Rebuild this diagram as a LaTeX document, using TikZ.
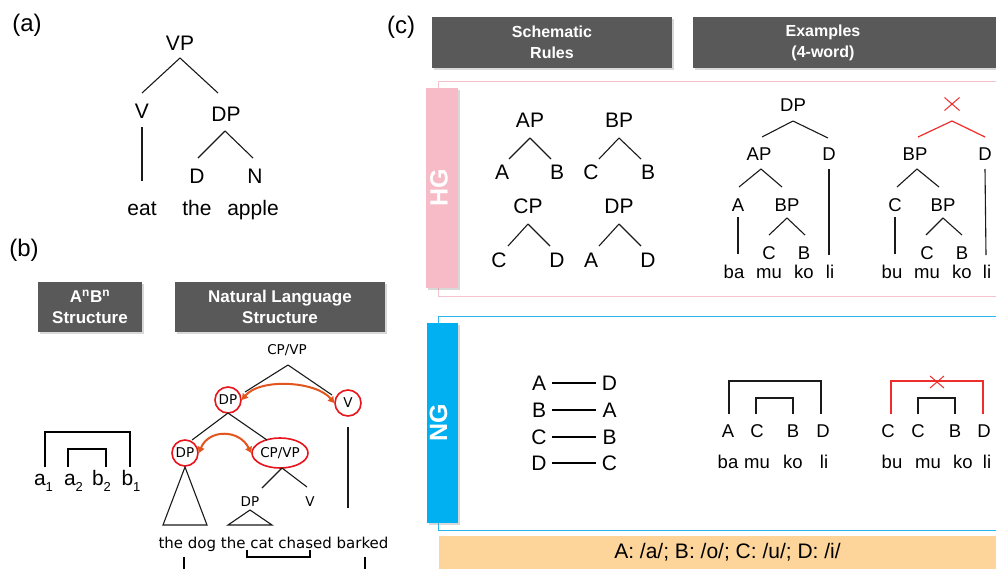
\documentclass[tikz,border=0pt]{standalone}
\usepackage{fontspec}
\setmainfont{Liberation Sans}
\newfontfamily\dvs{DejaVu Sans}
\usetikzlibrary{calc,shadows,shapes.misc,shapes.geometric,arrows.meta}
\newcommand{\fsz}[2]{\fontsize{#1}{#2}\selectfont}
\newcommand{\subidx}[1]{\raisebox{-0.3em}{\fsz{13}{13}#1}}
\definecolor{hdrgray}{HTML}{595959}
\definecolor{hgpink}{HTML}{F6BBC6}
\definecolor{hgline}{HTML}{F5C3CD}
\definecolor{ngblue}{HTML}{00B0F0}
\definecolor{ngline}{HTML}{2CB7EC}
\definecolor{keyorange}{HTML}{FDD59B}
\definecolor{xred}{HTML}{F02D2D}
\definecolor{cred}{HTML}{E8151D}
\definecolor{arrorange}{HTML}{E2561E}
\definecolor{treeline}{HTML}{1A1A1A}
\begin{document}
\begin{tikzpicture}[x=1pt,y=-1pt,
  panel/.style={inner sep=0pt, font=\fsz{24}{28}},
  lblA/.style={inner sep=0pt, font=\fsz{21}{25}},
  lblR/.style={inner sep=0pt, font=\fsz{21}{25}},
  lblE/.style={inner sep=0pt, font=\fsz{18.5}{22}},
  lblB/.style={inner sep=0pt, font=\dvs\fsz{13.5}{16}},
  edge/.style={draw=treeline, line width=1.1pt},
  rededge/.style={draw=xred, line width=1.2pt},
  brk/.style={draw=black, line width=1.6pt},
  sbrk/.style={draw=treeline, line width=1.2pt},
  hdr/.style={fill=hdrgray, inner sep=0pt, text=white, align=center,
    drop shadow={shadow xshift=1.5pt, shadow yshift=-1.5pt, opacity=0.3}},
  circ/.style={circle, draw=cred, line width=1.6pt, minimum size=26pt, inner sep=0pt, font=\dvs\fsz{13.5}{16}},
  dbl/.style={draw=arrorange, line width=2pt, {Triangle[length=6pt,width=7pt]}-{Triangle[length=6pt,width=7pt]}},
  xmark/.style={cross out, draw=xred, line width=1pt, inner sep=0pt}
]
\fill[white] (0,0) rectangle (996,568);
\useasboundingbox (0,0) rectangle (996,568);

% ---------------- (a) ----------------
\node[panel] (laba) at (27,25) {(a)};
\node[lblA] (vp) at (180,43) {VP};
\node[lblA] (v) at (142,111) {V};
\node[lblA] (dp) at (226,114) {DP};
\node[lblA] (d) at (197,176) {D};
\node[lblA] (n) at (255,176) {N};
\node[lblA, anchor=base] (eat) at (142,215) {eat};
\node[lblA, anchor=base] (the) at (197,215) {the};
\node[lblA, anchor=base] (apple) at (253,215) {apple};
\draw[edge] ($(vp)+(0,15)$) -- ($(v)+(0,-18)$);
\draw[edge] ($(vp)+(0,15)$) -- ($(dp)+(-8,-21)$);
\draw[edge] ($(v)+(0,16)$) -- ($(v)+(0,70)$);
\draw[edge] ($(dp)+(-1,17)$) -- ($(d)+(1,-18)$);
\draw[edge] ($(dp)+(-1,17)$) -- ($(n)+(-2,-18)$);

% ---------------- (b) ----------------
\node[panel] (labb) at (24,250) {(b)};
\node[hdr, minimum width=104pt, minimum height=50pt, font=\bfseries\fsz{17}{21}] (hb1) at (90,307) {A\textsuperscript{n}B\textsuperscript{n}\\Structure};
\node[hdr, minimum width=210pt, minimum height=50pt, font=\bfseries\fsz{17}{21}] (hb2) at (280,307) {Natural Language\\Structure};

\node[lblR, anchor=base] (a1) at (43.5,485) {a\subidx{1}};
\node[lblR, anchor=base] (a2) at (73.5,485) {a\subidx{2}};
\node[lblR, anchor=base] (b2) at (101.5,485) {b\subidx{2}};
\node[lblR, anchor=base] (b1) at (131,485) {b\subidx{1}};
\draw[brk] ([xshift=1.5pt,yshift=18pt]a1.base) -- ++(0,-35) -| ([xshift=-1pt,yshift=18pt]b1.base);
\draw[brk] ([xshift=-5.5pt,yshift=18pt]a2.base) -- ++(0,-18) -| ([xshift=4.5pt,yshift=18pt]b2.base);

\node[lblB] (cpA) at (287,350) {CP/VP};
\node[circ] (dpA) at (228,400) {DP};
\node[circ] (vA) at (348,403) {V};
\node[circ] (dpB) at (185,453) {DP};
\node[ellipse, draw=cred, line width=1.6pt, minimum width=56pt, minimum height=30pt, inner sep=0pt, font=\dvs\fsz{13.5}{16}] (cpB) at (280,453) {CP/VP};
\node[lblB] (dpC) at (250,502) {DP};
\node[lblB] (vC) at (310,502) {V};
\node[inner sep=0pt, font=\dvs\fsz{15}{18}, anchor=base] (sent) at (273.5,548) {the dog the cat chased barked};

\draw[edge] ($(cpA)+(1,15)$) -- ($(dpA)+(17,-8)$);
\draw[edge] ($(cpA)+(1,15)$) -- ($(vA)+(-16,-8)$);
\draw[edge] ($(dpA)+(0,13)$) -- ($(dpB)+(7,-13)$);
\draw[edge] ($(dpA)+(0,13)$) -- ($(cpB)+(-13,-13)$);
\draw[edge] ($(cpB)+(2,15)$) -- ($(dpC)+(12,-14)$);
\draw[edge] ($(cpB)+(2,15)$) -- ($(vC)+(-3,-15)$);
\draw[edge] ($(vA)+(0,24)$) -- ($(vA)+(0,105)$);
\draw[edge] ($(dpB)+(0,14)$) -- ($(dpB)+(-22,72)$) -- ($(dpB)+(22,72)$) -- cycle;
\draw[edge] ($(dpC)+(0,8)$) -- ($(dpC)+(-22,23)$) -- ($(dpC)+(22,23)$) -- cycle;
\draw[dbl] (dpA.east) .. controls +(18,-22) and +(-18,-22) .. (vA.west);
\draw[dbl] (dpB.east) .. controls +(10,-24) and +(-12,-24) .. (cpB.west);

\draw[brk] ([xshift=-89.5pt,yshift=-9pt]sent.base) -- ++(0,15);
\draw[brk] ([xshift=91.5pt,yshift=-9pt]sent.base) -- ++(0,15);
\draw[brk] ([xshift=-26.5pt,yshift=-1.5pt]sent.base) |- ([xshift=36.5pt,yshift=-9pt]sent.base) -- ([xshift=36.5pt,yshift=-1.5pt]sent.base);

% ---------------- (c) ----------------
\node[panel] (labc) at (401,27) {(c)};
\node[hdr, minimum width=240pt, minimum height=51pt, font=\bfseries\fsz{16}{21}] (hc1) at (552,42.5) {Schematic\\Rules};
\node[hdr, minimum width=310pt, minimum height=51pt] (hc2) at (848,42.5) {};
\node[inner sep=0pt, text=white, align=center, font=\bfseries\fsz{16}{21}] (hc2t) at (823,42.5) {Examples\\(4-word)};

% HG frame
\draw[hgline, line width=0.9pt] (438,81) rectangle (1010,296);
\node[fill=hgpink, minimum width=32pt, minimum height=200pt, inner sep=0pt,
  drop shadow={shadow xshift=1.5pt, shadow yshift=-1.5pt, opacity=0.3}] (hgbox) at (442,188) {};
\node[rotate=90, inner sep=0pt, text=white, font=\bfseries\fsz{25}{30}] (hgt) at (439,188) {HG};

% NG frame
\draw[ngline, line width=0.9pt] (438,316) rectangle (1010,530);
\node[fill=ngblue, minimum width=31pt, minimum height=200pt, inner sep=0pt,
  drop shadow={shadow xshift=1.5pt, shadow yshift=-1.5pt, opacity=0.3}] (ngbox) at (442.5,423) {};
\node[rotate=90, inner sep=0pt, text=white, font=\bfseries\fsz{25}{30}] (ngt) at (438.5,423) {NG};

% key bar
\fill[keyorange] (439,536) rectangle (1010,575);
\node[lblR] (key) at (727.5,552) {A: /a/; B: /o/; C: /u/; D: /i/};

% HG schematic rules
\node[lblR] (ap) at (530,120) {AP};
\node[lblR] (apa) at (502,172) {A};
\node[lblR] (apb) at (557,172) {B};
\node[lblR] (bp) at (619,120) {BP};
\node[lblR] (bpc) at (591,172) {C};
\node[lblR] (bpb) at (648,172) {B};
\node[lblR] (cp) at (528,206) {CP};
\node[lblR] (cpc) at (499,260) {C};
\node[lblR] (cpd) at (557,260) {D};
\node[lblR] (dps) at (619,206) {DP};
\node[lblR] (dpsa) at (591,260) {A};
\node[lblR] (dpsd) at (648,260) {D};
\draw[edge] ($(ap)+(0,18)$) -- ($(apa)+(7,-13)$);
\draw[edge] ($(ap)+(0,18)$) -- ($(apb)+(-6,-13)$);
\draw[edge] ($(bp)+(0,18)$) -- ($(bpc)+(8,-13)$);
\draw[edge] ($(bp)+(0,18)$) -- ($(bpb)+(-7,-13)$);
\draw[edge] ($(cp)+(0,18)$) -- ($(cpc)+(9,-14)$);
\draw[edge] ($(cp)+(0,18)$) -- ($(cpd)+(-7,-14)$);
\draw[edge] ($(dps)+(0,18)$) -- ($(dpsa)+(8,-14)$);
\draw[edge] ($(dps)+(0,18)$) -- ($(dpsd)+(-7,-14)$);

% HG example 1
\node[lblE] (e1dp) at (793,105) {DP};
\node[lblE] (e1ap) at (759,154) {AP};
\node[lblE] (e1d) at (829,154) {D};
\node[lblE] (e1a) at (738,205) {A};
\node[lblE] (e1bp) at (787,205) {BP};
\node[lblE] (e1c) at (769,253) {C};
\node[lblE] (e1b) at (804,253) {B};
\node[lblE, anchor=base] (e1w1) at (734,278) {ba};
\node[lblE, anchor=base] (e1w2) at (769,278) {mu};
\node[lblE, anchor=base] (e1w3) at (804,278) {ko};
\node[lblE, anchor=base] (e1w4) at (830,278) {li};
\draw[edge] ($(e1dp)+(0,16)$) -- ($(e1ap)+(3,-17)$);
\draw[edge] ($(e1dp)+(0,16)$) -- ($(e1d)+(-1,-16)$);
\draw[edge] ($(e1ap)+(2,15)$) -- ($(e1a)+(1,-18)$);
\draw[edge] ($(e1ap)+(2,15)$) -- ($(e1bp)+(-5,-18)$);
\draw[edge] ($(e1d)+(0,15)$) -- ($(e1d)+(0,101)$);
\draw[edge] ($(e1a)+(0,12)$) -- ($(e1a)+(0,49)$);
\draw[edge] ($(e1bp)+(0,13)$) -- ($(e1c)+(0,-18)$);
\draw[edge] ($(e1bp)+(0,13)$) -- ($(e1b)+(1,-18)$);

% HG example 2
\node[xmark, minimum width=14pt, minimum height=12pt] (e2x) at (952,104) {};
\node[lblE] (e2bp) at (915,154) {BP};
\node[lblE] (e2d) at (985,154) {D};
\node[lblE] (e2c) at (895,205) {C};
\node[lblE] (e2bp2) at (943,205) {BP};
\node[lblE] (e2c2) at (927,253) {C};
\node[lblE] (e2b) at (962,253) {B};
\node[lblE, anchor=base] (e2w1) at (892,278) {bu};
\node[lblE, anchor=base] (e2w2) at (927,278) {mu};
\node[lblE, anchor=base] (e2w3) at (962,278) {ko};
\node[lblE, anchor=base] (e2w4) at (987,278) {li};
\draw[rededge] ($(e2x)+(0,17)$) -- ($(e2bp)+(3,-17)$);
\draw[rededge] ($(e2x)+(0,17)$) -- ($(e2d)+(0,-17)$);
\draw[edge] ($(e2bp)+(2,15)$) -- ($(e2c)+(2,-18)$);
\draw[edge] ($(e2bp)+(2,15)$) -- ($(e2bp2)+(-4,-18)$);
\draw[edge] ($(e2c)+(0,12)$) -- ($(e2c)+(0,49)$);
\draw[edge] ($(e2bp2)+(0,13)$) -- ($(e2c2)+(-1,-18)$);
\draw[edge] ($(e2bp2)+(0,13)$) -- ($(e2b)+(0,-18)$);
\draw[edge] ($(e2d)+(0,15)$) -- ($(e2d)+(1,101)$);

% NG schematic rules
\foreach \y/\l/\r [count=\i] in {383/A/D, 410/B/A, 437/C/B, 463/D/C}{
  \node[lblR] (ngl\i) at (539,\y) {\l};
  \node[lblR] (ngr\i) at (609.5,\y) {\r};
  \draw[draw=black, line width=1.4pt, shorten <=13pt, shorten >=14pt] (ngl\i.center) -- (ngr\i.center);
}

% NG example 1
\node[lblE] (n1a) at (728,431) {A};
\node[lblE] (n1c) at (757,431) {C};
\node[lblE] (n1b) at (793,431) {B};
\node[lblE] (n1d) at (823,431) {D};
\node[lblE, anchor=base] (n1w1) at (728,468) {ba};
\node[lblE, anchor=base] (n1w2) at (757,468) {mu};
\node[lblE, anchor=base] (n1w3) at (793,468) {ko};
\node[lblE, anchor=base] (n1w4) at (824,468) {li};
\draw[sbrk] ([xshift=1pt]n1a.center) ++(0,-17) -- ++(0,-33) -| ([xshift=-2pt,yshift=17pt]n1d.center);
\draw[sbrk] ([xshift=-1pt]n1c.center) ++(0,-17) -- ++(0,-16) -| ([yshift=17pt]n1b.center);

% NG example 2
\node[lblE] (n2c) at (888,431) {C};
\node[lblE] (n2c2) at (918,431) {C};
\node[lblE] (n2b) at (955,431) {B};
\node[lblE] (n2d) at (984,431) {D};
\node[lblE, anchor=base] (n2w1) at (892,468) {bu};
\node[lblE, anchor=base] (n2w2) at (928,468) {mu};
\node[lblE, anchor=base] (n2w3) at (963,468) {ko};
\node[lblE, anchor=base] (n2w4) at (987,468) {li};
\draw[rededge] ([xshift=3pt]n2c.center) ++(0,-17) -- ++(0,-33) -| ([xshift=-1pt,yshift=17pt]n2d.center);
\draw[sbrk] (n2c2.center) ++(0,-17) -- ++(0,-16) -| ([yshift=17pt]n2b.center);
\node[xmark, minimum width=13pt, minimum height=11pt] (n2x) at (937,382) {};
\end{tikzpicture}
\end{document}
